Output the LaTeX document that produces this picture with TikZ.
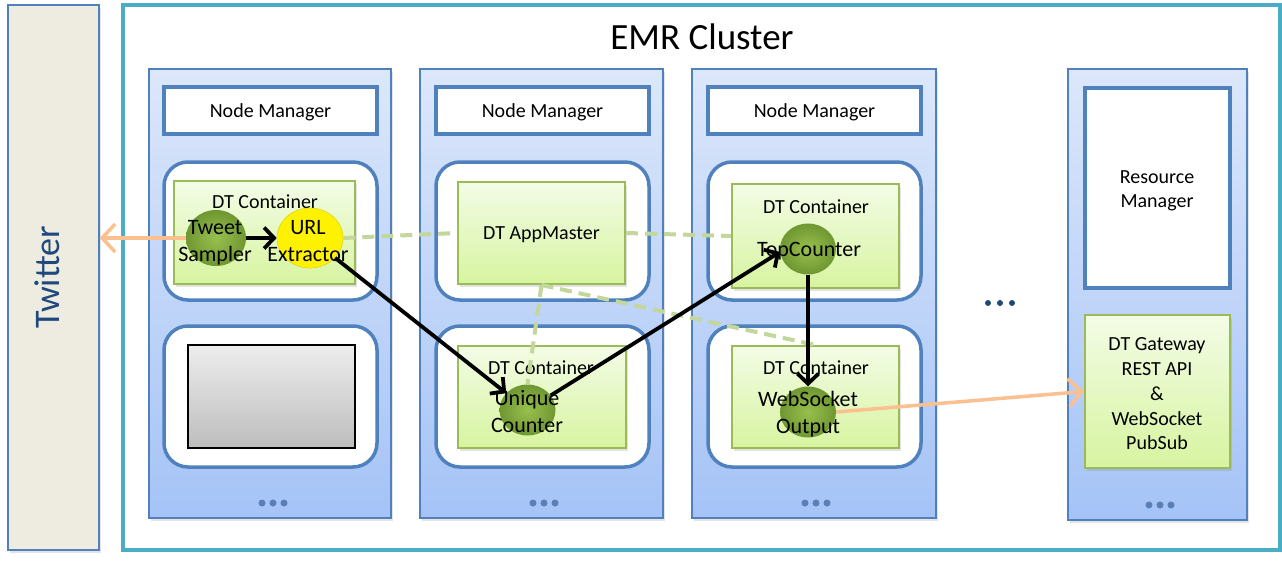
\documentclass[tikz,border=0pt]{standalone}
\usepackage{fontspec}
\setmainfont{Carlito}
\usetikzlibrary{shapes.geometric,arrows.meta,shadows}
\definecolor{bluebd}{HTML}{4F81BD}
\definecolor{colTop}{HTML}{DCE7FA}
\definecolor{colBot}{HTML}{A5C3F7}
\definecolor{teal}{HTML}{4BACC6}
\definecolor{twfill}{HTML}{EEECE1}
\definecolor{twtext}{HTML}{1F497D}
\definecolor{gTop}{HTML}{F3FCE6}
\definecolor{gBot}{HTML}{D7F4A0}
\definecolor{greenbd}{HTML}{9BBB59}
\definecolor{eIn}{HTML}{98C04E}
\definecolor{eOut}{HTML}{6F9732}
\definecolor{dashc}{HTML}{C3D69B}
\definecolor{orangec}{HTML}{FAC090}
\definecolor{grayTop}{HTML}{EDEDED}
\definecolor{grayBot}{HTML}{BDBDBD}
\definecolor{dotc}{HTML}{5B7FB5}
\begin{document}
\begin{tikzpicture}[x=1pt,y=-1pt,
  shad/.style={drop shadow={shadow xshift=2pt,shadow yshift=-2.5pt,opacity=0.22}},
  column/.style={draw=bluebd,line width=1.6pt,top color=colTop,bottom color=colBot,inner sep=0pt,shad},
  nmbox/.style={draw=bluebd,line width=3.5pt,fill=white,inner sep=0pt,text depth=0pt,font=\fontsize{20}{24}\selectfont},
  contbox/.style={draw=bluebd,line width=3.5pt,fill=white,rounded corners=24pt,inner sep=0pt},
  gbox/.style={draw=greenbd,line width=2pt,top color=gTop,bottom color=gBot,inner sep=0pt,shad},
  ell/.style={ellipse,inner sep=0pt,shading=radial,inner color=eIn,outer color=eOut},
  lbl/.style={font=\fontsize{20}{24}\selectfont,align=center,inner sep=0pt},
  elbl/.style={font=\fontsize{22}{27}\selectfont,align=center,inner sep=0pt},
  dashline/.style={draw=dashc,line width=4pt,dash pattern=on 12pt off 7pt},
  blk/.style={draw=black,line width=3.8pt,-{Straight Barb[length=10pt,width=21pt]}},
  org/.style={draw=orangec,line width=3.5pt,-{Straight Barb[length=13pt,width=28pt]}}
]
\useasboundingbox (0,0) rectangle (1282,562);
\fill[white] (0,0) rectangle (1282,562);

% Twitter bar
\node[draw=bluebd,line width=1.5pt,fill=twfill,inner sep=0pt,minimum width=91pt,minimum height=545pt,shad] (tw) at (53.5,277.5) {};
\node[rotate=90,text=twtext,font=\fontsize{36}{40}\selectfont] (twl) at (47,277.5) {Twitter};

% EMR frame
\node[draw=teal,line width=3.5pt,inner sep=0pt,minimum width=1157pt,minimum height=545pt] (emr) at (701.5,277.5) {};
\node[font=\fontsize{37}{40}\selectfont] (emrl) at (702,37) {EMR Cluster};

% columns
\node[column,minimum width=242pt,minimum height=449pt] (c1) at (270,293.5) {};
\node[column,minimum width=243pt,minimum height=449pt] (c2) at (541.5,293.5) {};
\node[column,minimum width=244pt,minimum height=449pt] (c3) at (814,293.5) {};
\node[column,minimum width=179pt,minimum height=451pt] (c4) at (1157.5,294.5) {};

% node managers
\node[nmbox,minimum width=213pt,minimum height=47pt] (nm1) at (270.5,110.5) {Node Manager};
\node[nmbox,minimum width=213pt,minimum height=47pt] (nm2) at (542.5,110.5) {Node Manager};
\node[nmbox,minimum width=213pt,minimum height=47pt] (nm3) at (814.5,110.5) {Node Manager};

% rounded containers
\node[contbox,minimum width=213pt,minimum height=138pt] (u1) at (270.5,231) {};
\node[contbox,minimum width=213pt,minimum height=138pt] (u2) at (542.5,231) {};
\node[contbox,minimum width=213pt,minimum height=138pt] (u3) at (814.5,231) {};
\node[contbox,minimum width=213pt,minimum height=141pt] (l1) at (270.5,396.5) {};
\node[contbox,minimum width=213pt,minimum height=141pt] (l2) at (542.5,396.5) {};
\node[contbox,minimum width=213pt,minimum height=141pt] (l3) at (814.5,396.5) {};

% green boxes
\node[gbox,minimum width=181pt,minimum height=103pt] (g1) at (264.5,232.5) {};
\node[lbl] (g1l) at (265,202) {DT Container};
\node[gbox,minimum width=167pt,minimum height=102pt,text depth=0pt,font=\fontsize{20}{24}\selectfont] (am) at (541.5,233) {DT AppMaster};
\node[gbox,minimum width=167pt,minimum height=104pt] (g3) at (815.5,236) {};
\node[lbl] (g3l) at (816,207) {DT Container};
\node[gbox,minimum width=168pt,minimum height=102pt] (g2) at (542,397) {};
\node[lbl] (g2l) at (541,368) {DT Container};
\node[gbox,minimum width=167pt,minimum height=102pt] (g4) at (815.5,397) {};
\node[lbl] (g4l) at (816,368) {DT Container};

% gray box
\node[draw=black,line width=2pt,top color=grayTop,bottom color=grayBot,inner sep=0pt,minimum width=167pt,minimum height=103pt] (gray) at (271.5,396.5) {};

% resource manager column
\node[nmbox,minimum width=145pt,minimum height=200pt] (rm) at (1157.5,188) {};
\node[lbl] (rml) at (1157,191) {Resource\\Manager};
\node[gbox,minimum width=145pt,minimum height=153pt] (gw) at (1157.5,391.5) {};
\node[font=\fontsize{20}{24.75}\selectfont,align=center,inner sep=0pt] (gwl) at (1157,394) {DT Gateway\\REST API\\\&\\WebSocket\\PubSub};

% dots
\foreach \cx/\cy in {273/503,544/503,816/503,1160/505}{
  \foreach \d in {-11,0,11}{\fill[dotc] (\cx+\d,\cy) circle (3.5pt);}
}
\foreach \d in {-12,0,12}{\fill[twtext] (1000+\d,303) circle (3pt);}

% operator ellipses
\node[ell,minimum width=60pt,minimum height=56pt] (ts) at (216,238) {};
\node[ellipse,inner sep=0pt,fill=yellow,draw=yellow!85!black,line width=0.6pt,minimum width=66pt,minimum height=60pt] (ue) at (310,238) {};
\node[ell,minimum width=56pt,minimum height=51pt] (uc) at (527.5,410) {};
\node[ell,minimum width=56pt,minimum height=51pt] (tc) at (808,249) {};
\node[ell,minimum width=56pt,minimum height=51pt] (ws) at (808,412) {};

% dashed links
\draw[dashline] (ue.east) -- (am.west);
\draw[dashline] (am.east) -- (g3.west);
\draw[dashline] (am.south) -- (uc.north);
\draw[dashline] (am.south) -- (g4.north);

% labels of ellipses
\node[elbl] (tsl) at (215,243) {Tweet\\Sampler};
\node[elbl] (uel) at (308,241) {URL\\Extractor};
\node[elbl] (ucl) at (527,412) {Unique\\Counter};
\node[elbl] (tcl) at (809,251) {TopCounter};
\node[elbl] (wsl) at (808,414) {WebSocket\\Output};

% data flow arrows
\draw[blk] (ts) -- (ue);
\draw[blk] (ue) -- (uc);
\draw[blk] (uc) -- (tc.186);
\draw[blk] (tc) -- (ws);
\draw[org] (ts.west) -- (ts.west -| tw.east);
\draw[org] (ws.east) -- (gw.west);
\end{tikzpicture}
\end{document}
